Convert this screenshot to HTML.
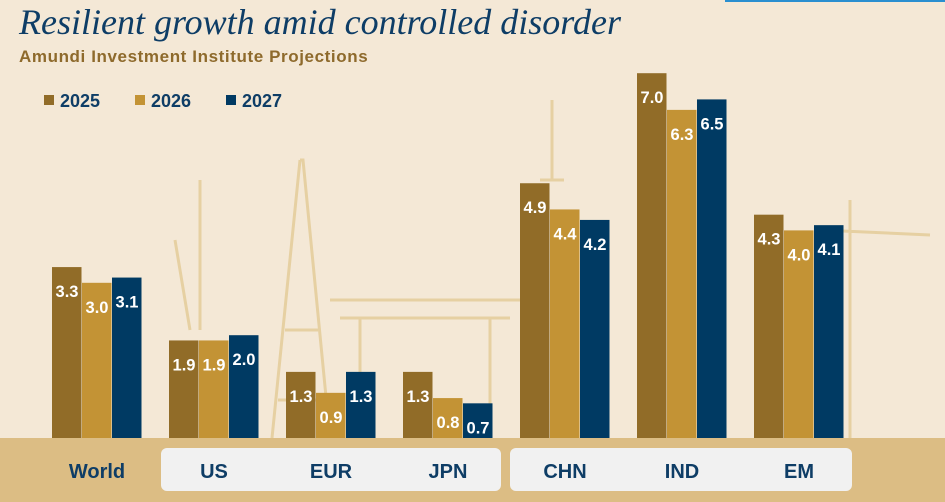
<!DOCTYPE html>
<html><head><meta charset="utf-8"><style>
body{margin:0;width:945px;height:502px;overflow:hidden;background:#f4e8d6;font-family:"Liberation Sans",sans-serif}
#wrap{position:relative;width:945px;height:502px}
.title{position:absolute;left:19px;top:1px;font-family:"Liberation Serif",serif;font-style:italic;font-size:36px;color:#0e3d66;white-space:nowrap}
.sub{position:absolute;left:19px;top:47px;font-weight:bold;font-size:17px;letter-spacing:0.6px;color:#8e6a2c;white-space:nowrap}
</style></head><body><div id="wrap">
<div style="position:absolute;left:725px;top:0;width:220px;height:2px;background:#2a8fd0"></div>
<div class="title">Resilient growth amid controlled disorder</div>
<div class="sub">Amundi Investment Institute Projections</div>
<svg id="svg" width="945" height="502" style="position:absolute;left:0;top:0"></svg>
</div>
<script>
const categories=["World","US","EUR","JPN","CHN","IND","EM"];
const series2025=[3.3,1.9,1.3,1.3,4.9,7.0,4.3];
const series2026=[3.0,1.9,0.9,0.8,4.4,6.3,4.0];
const series2027=[3.1,2.0,1.3,0.7,4.2,6.5,4.1];
const seriesNames=["2025","2026","2027"];
const colors=["#916c28","#c39335","#003a63"];
const NS="http://www.w3.org/2000/svg";
const svg=document.getElementById('svg');
function mk(t,a){const e=document.createElementNS(NS,t);for(const k in a)e.setAttribute(k,a[k]);svg.appendChild(e);return e;}
const base=440,unit=52.4;
function y(v){return base-v*unit;}
function gx(i){return 52+i*117;}
const deco=mk('g',{stroke:'#e6d0a2',fill:'none','stroke-width':3});


["M300 160 L303 160 L330 438 M300 160 L272 438 M285 330 L318 330 M278 400 L325 400",
 "M330 300 L520 300 M340 318 L510 318 M360 318 L360 438 M490 318 L490 438",
 "M552 100 L552 180 M540 180 L564 180",
 "M850 200 L850 438 M820 230 L930 235",
 "M200 180 L200 330 M175 240 L190 330"].forEach(p=>{const e=document.createElementNS(NS,'path');e.setAttribute('d',p);deco.appendChild(e);});
seriesNames.forEach((n,i)=>{const x=44+i*91;
 const r=mk('rect',{x:x,y:95,width:10,height:10,fill:colors[i]});
 
 const t=mk('text',{x:x+16,y:107,'font-size':18,'font-weight':'bold',fill:'#0e3d66','font-family':'Liberation Sans, sans-serif'});t.textContent=n;
 });
const all=[series2025,series2026,series2027];
categories.forEach((c,i)=>{all.forEach((s,j)=>{const v=s[i];const x=gx(i)+j*30;
 const r=mk('rect',{x:x,y:y(v),width:29.5,height:base-y(v),fill:colors[j]});
 
 const t=mk('text',{x:x+15,y:y(v)+30,'text-anchor':'middle','font-size':16.5,'font-weight':'bold',fill:'#fff','font-family':'Liberation Sans, sans-serif'});
 t.textContent=v.toFixed(1);
 });});
const band=mk('rect',{x:0,y:438,width:945,height:64,fill:'#dcbd84'});

const b1=mk('rect',{x:161,y:448,width:340,height:43,rx:6,fill:'#f1f1f1'});

const b2=mk('rect',{x:510,y:448,width:342,height:43,rx:6,fill:'#f1f1f1'});

categories.forEach((c,i)=>{const t=mk('text',{x:gx(i)+45,y:478,'text-anchor':'middle','font-size':20,'font-weight':'bold',fill:'#0e3d66','font-family':'Liberation Sans, sans-serif'});
 t.textContent=c;});
</script></body></html>
